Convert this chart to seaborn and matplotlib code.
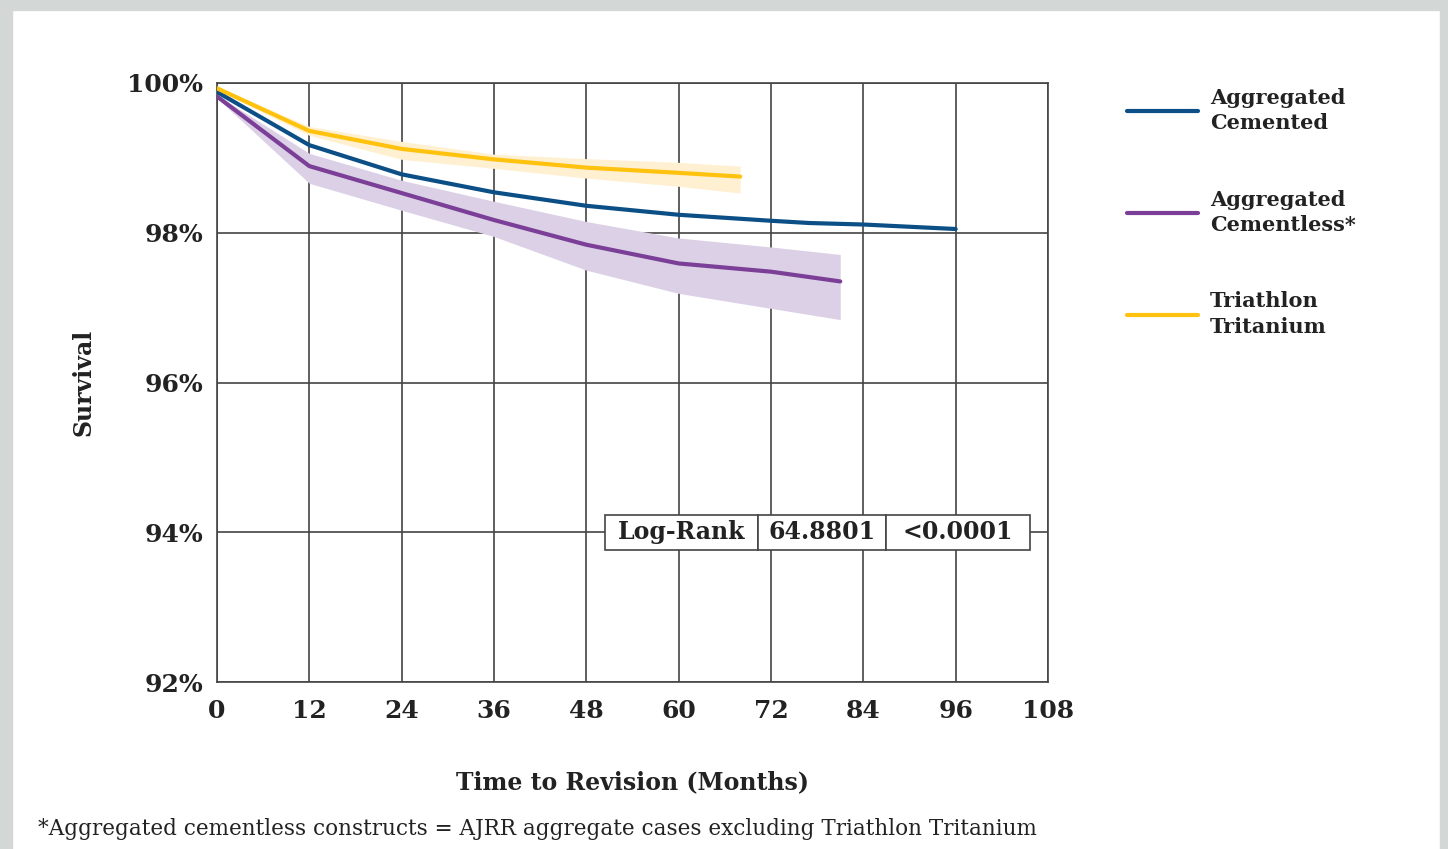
import matplotlib
matplotlib.use("Agg")
import matplotlib.pyplot as plt
from matplotlib.patches import Rectangle
from matplotlib.lines import Line2D
import seaborn as sns
import pandas as pd

# Kaplan-Meier survival estimates (%) by months since surgery
cemented_months = [0, 12, 24, 36, 48, 60, 72, 77, 84, 96]
cemented_surv = [99.88, 99.17, 98.78, 98.54, 98.36, 98.24, 98.16, 98.13, 98.11, 98.05]

cementless_months = [0, 12, 24, 36, 48, 60, 72, 81]
cementless_surv = [99.82, 98.89, 98.53, 98.17, 97.84, 97.59, 97.48, 97.35]
cementless_low = [99.80, 98.66, 98.30, 97.95, 97.50, 97.19, 96.99, 96.84]
cementless_high = [99.84, 99.06, 98.70, 98.42, 98.15, 97.93, 97.81, 97.71]

tritanium_months = [0, 12, 24, 36, 48, 60, 68]
tritanium_surv = [99.93, 99.36, 99.12, 98.98, 98.87, 98.80, 98.75]
tritanium_low = [99.91, 99.30, 98.98, 98.86, 98.73, 98.62, 98.53]
tritanium_high = [99.95, 99.42, 99.22, 99.05, 98.99, 98.94, 98.89]

series_names = ["Aggregated\nCemented", "Aggregated\nCementless*", "Triathlon\nTritanium"]
series_colors = ["#0b4f86", "#7b3f98", "#ffc20e"]
band_colors = [None, "#dcd0e6", "#fff0d2"]

x_ticks = [0, 12, 24, 36, 48, 60, 72, 84, 96, 108]
y_ticks = [92, 94, 96, 98, 100]
y_tick_labels = ["92%", "94%", "96%", "98%", "100%"]

log_rank_row = ["Log-Rank", "64.8801", "<0.0001"]

sns.set_theme(style="white")
plt.rcParams["font.family"] = ["DejaVu Serif"]

frames = []
for name, m, s in zip(series_names,
                      [cemented_months, cementless_months, tritanium_months],
                      [cemented_surv, cementless_surv, tritanium_surv]):
    frames.append(pd.DataFrame({"month": m, "survival": s, "group": name}))
df = pd.concat(frames, ignore_index=True)

fig = plt.figure(figsize=(14.48, 8.49), dpi=100)
fig.patch.set_facecolor("white")

# light grey frame around the panel
frame_col = "#d3d7d6"
fig.patches.append(Rectangle((0, 1 - 10 / 849), 1, 10 / 849, transform=fig.transFigure,
                             color=frame_col, zorder=0))
fig.patches.append(Rectangle((0, 0), 12 / 1448, 1, transform=fig.transFigure,
                             color=frame_col, zorder=0))
fig.patches.append(Rectangle((1 - 8 / 1448, 0), 8 / 1448, 1, transform=fig.transFigure,
                             color=frame_col, zorder=0))

ax = fig.add_axes([217 / 1448, 1 - 682 / 849, 831 / 1448, 599 / 849])

# confidence bands
ax.fill_between(cementless_months, cementless_low, cementless_high,
                color=band_colors[1], linewidth=0, zorder=1)
ax.fill_between(tritanium_months, tritanium_low, tritanium_high,
                color=band_colors[2], linewidth=0, zorder=1)

sns.lineplot(data=df, x="month", y="survival", hue="group",
             hue_order=series_names, palette=series_colors,
             linewidth=3, ax=ax, legend=False, zorder=3, sort=False)

ax.set_xlim(0, 108)
ax.set_ylim(92, 100)
ax.set_xticks(x_ticks)
ax.set_yticks(y_ticks)
ax.set_yticklabels(y_tick_labels)
ax.grid(True, color="#444444", linewidth=1.2, zorder=0)
ax.set_axisbelow(True)
for sp in ax.spines.values():
    sp.set_color("#444444")
    sp.set_linewidth(1.2)

ax.tick_params(axis="both", length=0, labelsize=18, colors="#222222")
ax.tick_params(axis="x", pad=12)
ax.tick_params(axis="y", pad=10)
for lbl in ax.get_xticklabels() + ax.get_yticklabels():
    lbl.set_fontweight("bold")

ax.set_xlabel("Time to Revision (Months)", fontsize=17, fontweight="bold",
              color="#222222", labelpad=34)
ax.set_ylabel("Survival", fontsize=17, fontweight="bold", color="#222222", labelpad=23)

# Log-rank test result box
tbl = ax.table(cellText=[log_rank_row], cellLoc="center",
               colWidths=[153, 128, 144],
               bbox=[0.467, 0.2204, 0.511, 0.0584])
tbl.auto_set_font_size(False)
for (r, c), cell in tbl.get_celld().items():
    cell.set_edgecolor("#444444")
    cell.set_linewidth(1.2)
    cell.set_facecolor("white")
    cell.get_text().set_fontsize(17)
    cell.get_text().set_fontweight("bold")
    cell.get_text().set_color("#222222")
tbl.set_zorder(5)

# legend on the right
handles = [Line2D([0], [0], color=c, linewidth=3) for c in series_colors]
leg = fig.legend(handles, series_names, loc="upper left",
                 bbox_to_anchor=(1108 / 1448, 1 - 69 / 849),
                 frameon=False, handlelength=3.4, handletextpad=0.6,
                 labelspacing=2.7, prop={"size": 15, "weight": "bold"})
for t in leg.get_texts():
    t.set_color("#222222")
    t.set_linespacing(1.35)

fig.text(38 / 1448, 1 - 829 / 849, "*Aggregated cementless constructs = AJRR aggregate cases excluding Triathlon Tritanium",
         fontsize=15.5, color="#222222", va="center", ha="left")

fig.savefig("out.png", dpi=100)
